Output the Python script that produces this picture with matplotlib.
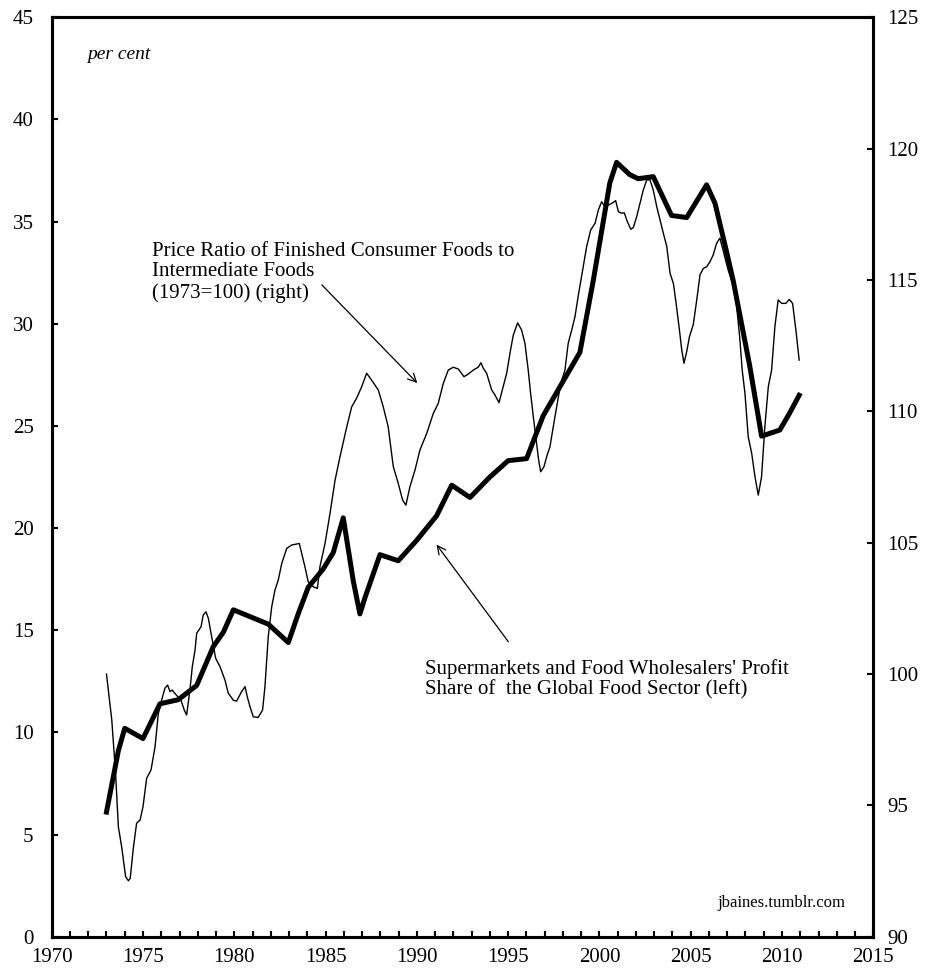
import matplotlib
matplotlib.use("Agg")
import matplotlib.pyplot as plt
from matplotlib.ticker import MultipleLocator

plt.rcParams["font.family"] = ["Liberation Serif", "DejaVu Serif"]
plt.rcParams["font.size"] = 12

# supermarkets and food wholesalers' profit share (left axis, per cent)
profit_years = [1973.0, 1973.65, 1974.0, 1975.0, 1975.93, 1976.93, 1977.94, 1978.85,
                1979.4, 1979.95, 1981.86, 1982.96, 1983.5, 1984.05, 1984.87, 1985.42,
                1985.97, 1986.52, 1986.88, 1987.16, 1987.98, 1988.98, 1989.99, 1991.08,
                1991.91, 1992.91, 1994.0, 1995.0, 1996.01, 1996.92, 1998.02, 1998.93,
                1999.66, 2000.57, 2000.94, 2001.66, 2002.12, 2002.95, 2003.95, 2004.78,
                2005.87, 2006.33, 2006.97, 2007.33, 2008.24, 2008.88, 2009.88, 2010.4,
                2010.94]
profit_share = [6.1, 9.1, 10.2, 9.7, 11.4, 11.6, 12.3, 14.2,
                14.9, 16.0, 15.3, 14.4, 15.8, 17.1, 18.0, 18.8,
                20.5, 17.4, 15.8, 16.6, 18.7, 18.4, 19.4, 20.6,
                22.1, 21.5, 22.5, 23.3, 23.4, 25.5, 27.2, 28.6,
                32.1, 36.9, 37.9, 37.3, 37.1, 37.2, 35.3, 35.2,
                36.8, 35.9, 33.5, 32.1, 27.9, 24.5, 24.8, 25.6,
                26.5]

# price ratio of finished consumer foods to intermediate foods (right axis, 1973=100)
ratio_years = [1973.0, 1973.29, 1973.5, 1973.65, 1973.83, 1974.05, 1974.2, 1974.3,
               1974.47, 1974.65, 1974.84, 1975.0, 1975.2, 1975.44, 1975.66, 1975.84,
               1976.02, 1976.2, 1976.35, 1976.48, 1976.6, 1976.75, 1977.08, 1977.26,
               1977.39, 1977.57, 1977.7, 1977.85, 1977.94, 1978.18, 1978.3, 1978.45,
               1978.58, 1978.76, 1978.98, 1979.22, 1979.49, 1979.67, 1979.95, 1980.13,
               1980.4, 1980.59, 1980.71, 1980.86, 1981.04, 1981.31, 1981.55, 1981.68,
               1981.86, 1982.05, 1982.23, 1982.41, 1982.6, 1982.87, 1983.14, 1983.56,
               1983.69, 1983.87, 1984.05, 1984.33, 1984.55, 1984.69, 1984.97, 1985.24,
               1985.52, 1985.79, 1986.16, 1986.43, 1986.7, 1986.98, 1987.25, 1987.52,
               1987.89, 1988.16, 1988.43, 1988.71, 1988.98, 1989.22, 1989.4, 1989.62,
               1989.9, 1990.17, 1990.54, 1990.9, 1991.17, 1991.45, 1991.72, 1991.99,
               1992.27, 1992.58, 1992.82, 1993.09, 1993.36, 1993.51, 1993.64, 1993.82,
               1994.1, 1994.28, 1994.5, 1994.73, 1994.92, 1995.1, 1995.28, 1995.52,
               1995.74, 1995.92, 1996.1, 1996.23, 1996.38, 1996.56, 1996.67, 1996.78,
               1996.96, 1997.14, 1997.29, 1997.47, 1997.66, 1997.88, 1998.11, 1998.29,
               1998.48, 1998.66, 1998.84, 1999.08, 1999.3, 1999.52, 1999.76, 1999.94,
               2000.12, 2000.3, 2000.49, 2000.73, 2000.89, 2001.04, 2001.22, 2001.36,
               2001.53, 2001.72, 2001.86, 2002.04, 2002.22, 2002.4, 2002.59, 2002.77,
               2002.95, 2003.14, 2003.32, 2003.5, 2003.69, 2003.87, 2004.05, 2004.2,
               2004.36, 2004.51, 2004.63, 2004.78, 2004.93, 2005.14, 2005.33, 2005.51,
               2005.69, 2005.87, 2006.05, 2006.23, 2006.42, 2006.6, 2006.77, 2007.05,
               2007.32, 2007.5, 2007.68, 2007.82, 2007.97, 2008.15, 2008.34, 2008.52,
               2008.7, 2008.88, 2009.06, 2009.25, 2009.43, 2009.61, 2009.79, 2009.98,
               2010.21, 2010.4, 2010.58, 2010.76, 2010.94]
price_ratio = [100.0, 98.25, 96.2, 94.19, 93.43, 92.28, 92.13, 92.22,
               93.37, 94.32, 94.44, 94.95, 96.03, 96.35, 97.23, 98.5,
               99.0, 99.46, 99.58, 99.33, 99.39, 99.26, 99.0, 98.63,
               98.44, 99.39, 100.28, 100.91, 101.55, 101.8, 102.25, 102.37,
               102.12, 101.42, 100.6, 100.28, 99.77, 99.27, 99.0, 98.97,
               99.33, 99.52, 99.14, 98.76, 98.37, 98.35, 98.63, 99.52,
               101.42, 102.56, 103.2, 103.58, 104.21, 104.78, 104.91, 104.97,
               104.59, 104.08, 103.51, 103.32, 103.26, 104.08, 104.97, 106.1,
               107.38, 108.27, 109.41, 110.17, 110.5, 110.94, 111.45, 111.19,
               110.81, 110.17, 109.41, 107.89, 107.26, 106.62, 106.43, 107.13,
               107.77, 108.53, 109.16, 109.92, 110.3, 111.07, 111.57, 111.68,
               111.61, 111.32, 111.42, 111.57, 111.68, 111.85, 111.64, 111.45,
               110.81, 110.62, 110.33, 110.94, 111.45, 112.21, 112.9, 113.37,
               113.09, 112.59, 111.57, 110.69, 109.79, 108.78, 108.15, 107.7,
               107.89, 108.34, 108.65, 109.41, 110.17, 111.07, 111.57, 112.59,
               113.09, 113.6, 114.4, 115.38, 116.27, 116.9, 117.16, 117.66,
               117.98, 117.79, 117.85, 117.94, 118.02, 117.6, 117.54, 117.56,
               117.22, 116.93, 117.0, 117.41, 117.92, 118.42, 118.81, 118.81,
               118.42, 117.79, 117.28, 116.78, 116.27, 115.25, 114.87, 114.11,
               113.22, 112.33, 111.83, 112.27, 112.84, 113.3, 114.24, 115.2,
               115.44, 115.5, 115.69, 115.95, 116.4, 116.59, 116.14, 115.38,
               114.81, 114.11, 112.84, 111.57, 110.69, 109.03, 108.4, 107.51,
               106.81, 107.51, 109.41, 110.94, 111.57, 113.22, 114.24, 114.11,
               114.11, 114.26, 114.11, 113.1, 111.95]


def style_axis(ax, pad):
    for spine in ax.spines.values():
        spine.set_linewidth(2.2)
    ax.tick_params(which="both", direction="in", length=4, width=1.5,
                   labelsize=15, pad=pad)


def main():
    fig = plt.figure(figsize=(9.25, 9.72), dpi=100)
    ax = fig.add_axes([0.0559, 0.0363, 0.8882, 0.9459])
    ax2 = ax.twinx()

    ax2.plot(ratio_years, price_ratio, color="black", linewidth=1.0)
    ax.plot(profit_years, profit_share, color="black", linewidth=3.6,
            solid_joinstyle="round", zorder=3)
    ax.set_zorder(ax2.get_zorder() + 1)
    ax.patch.set_visible(False)

    ax.set_xlim(1970, 2015)
    ax.set_ylim(0, 45)
    ax2.set_ylim(90, 125)
    ax.xaxis.set_major_locator(MultipleLocator(5))
    ax.xaxis.set_minor_locator(MultipleLocator(1))
    ax.yaxis.set_major_locator(MultipleLocator(5))
    ax2.yaxis.set_major_locator(MultipleLocator(5))
    style_axis(ax, 13)
    style_axis(ax2, 10)
    ax.tick_params(axis="x", which="both", pad=8)

    ax.text(1971.95, 43.2, "per cent", style="italic", fontsize=14, va="center")

    ax.text(1975.5, 34.0,
            "Price Ratio of Finished Consumer Foods to\nIntermediate Foods\n(1973=100) (right)",
            fontsize=15, va="top", linespacing=1.1)
    ax.annotate("", xy=(1990.13, 27.0), xytext=(1984.69, 32.0),
                arrowprops=dict(arrowstyle="->", color="black", lw=0.9,
                                mutation_scale=15))

    ax.text(1990.46, 13.6,
            "Supermarkets and Food Wholesalers' Profit\nShare of  the Global Food Sector (left)",
            fontsize=15, va="top", linespacing=1.1)
    ax.annotate("", xy=(1990.99, 19.3), xytext=(1995.1, 14.33),
                arrowprops=dict(arrowstyle="->", color="black", lw=0.9,
                                mutation_scale=15))

    ax.text(2013.45, 1.65, "jbaines.tumblr.com", fontsize=12, ha="right", va="center")

    fig.savefig("out.png", dpi=100)


if __name__ == "__main__":
    main()
